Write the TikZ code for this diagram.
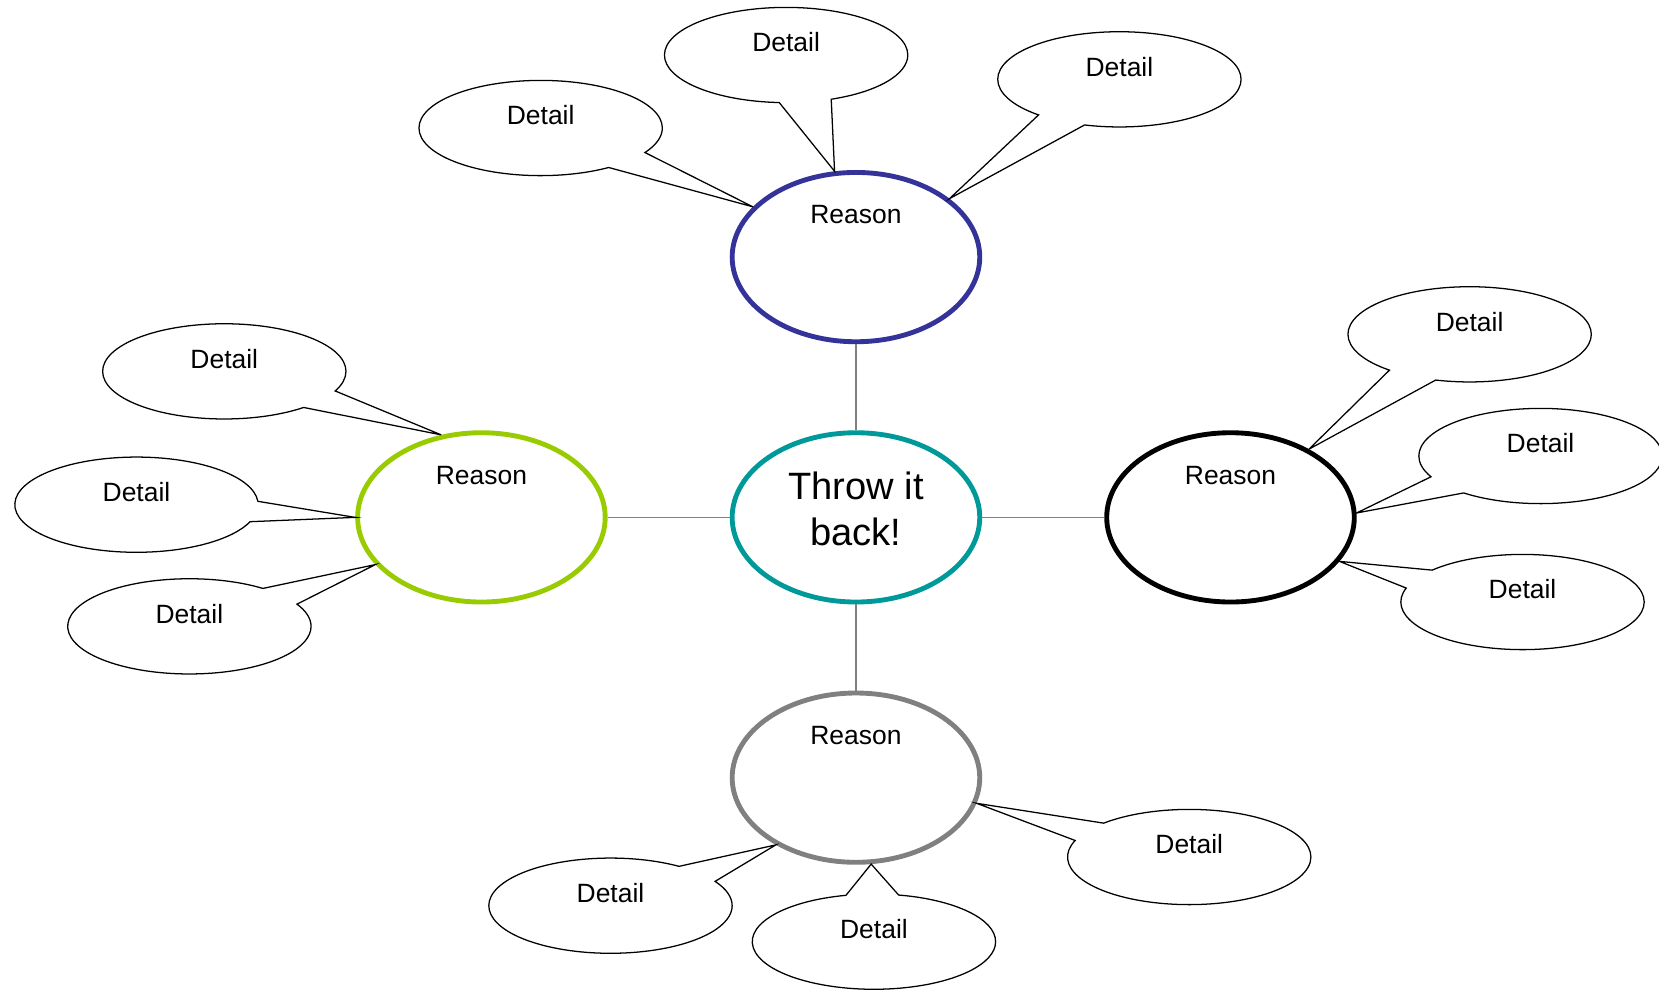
\documentclass[tikz,border=0pt]{standalone}
\usepackage{fontspec}
\setmainfont{Liberation Sans}
\usetikzlibrary{positioning,shapes,shapes.callouts}
\definecolor{reasonblue}{RGB}{51,51,153}
\definecolor{reasongreen}{RGB}{153,204,0}
\definecolor{hubteal}{RGB}{0,153,153}
\definecolor{reasongray}{RGB}{128,128,128}

\begin{document}
\begin{tikzpicture}[x=0.5pt,y=-0.5pt]
    \tikzstyle{reason}=[ellipse,draw,line width=2.3pt,minimum width=117pt,minimum height=80pt,inner sep=0,font=\fontsize{12.5}{15}\selectfont,text depth=40pt]
    \tikzstyle{hub}=[reason,draw=hubteal,text depth=8pt,align=center,font=\fontsize{18}{22}\selectfont]
    \tikzstyle{detail}=[ellipse callout,draw,line width=0.6pt,minimum width=115pt,minimum height=45pt,inner sep=0,callout pointer arc=25,font=\fontsize{12.5}{15}\selectfont,text depth=12pt]
    \tikzstyle{link}=[draw=gray,line width=0.75pt]
    \useasboundingbox (0,0) rectangle (1568,935);

    % hub and reasons
    \node[hub] (hub) at (809,489) {Throw it\\back!};
    \node[reason,draw=reasonblue] (top) at (809,243) {Reason};
    \node[reason,draw=reasongreen] (left) at (455,489) {Reason};
    \node[reason,draw=black] (right) at (1163,489) {Reason};
    \node[reason,draw=reasongray] (bottom) at (809,735) {Reason};

    \draw[link] (hub) -- (top);
    \draw[link] (hub) -- (left);
    \draw[link] (hub) -- (right);
    \draw[link] (hub) -- (bottom);

    % details
    \foreach \n/\x/\y/\tip in {1/511/121/top.154, 2/743/52/top.104, 3/1058/75/top.32,
                               4/212/351/left.116, 5/129/477/left.180, 6/179/592/left.204,
                               7/1389/316/right.41, 8/1456/431/right.2, 9/1439/569/right.338,
                               10/577/856/bottom.220, 11/826/890/bottom.280, 12/1124/810/bottom.348} {
        \node[detail,callout absolute pointer={(\tip)}] (d\n) at (\x,\y) {Detail};
    }
\end{tikzpicture}
\end{document}
